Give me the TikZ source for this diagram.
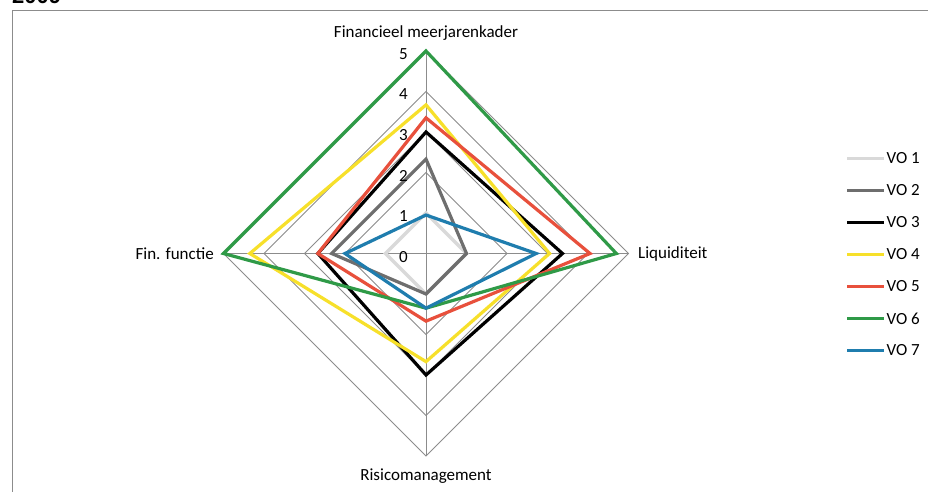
\documentclass[tikz,border=0pt]{standalone}
\usepackage{fontspec}
\setmainfont{Carlito}
\newfontfamily\titlefont{Liberation Sans}
\usepackage{tikz}
\definecolor{gridgray}{HTML}{8C8C8C}
\definecolor{vogray}{HTML}{D9D9D9}
\definecolor{vodark}{HTML}{6E6E6E}
\definecolor{voyellow}{HTML}{F7E02A}
\definecolor{vored}{HTML}{E8503C}
\definecolor{vogreen}{HTML}{2F9A47}
\definecolor{voblue}{HTML}{1F7DAE}
\tikzstyle{grid} = [draw=gridgray,line width=0.9pt]
\tikzstyle{serie} = [line width=3.2pt,line join=miter]
\tikzstyle{lbl} = [font=\fontsize{17}{19}\selectfont,inner sep=2pt,text=black]

\begin{document}
\begin{tikzpicture}[x=1pt,y=-1pt]
        \useasboundingbox (0,0) rectangle (928,492);
        \fill[white] (0,0) rectangle (928,492);
        \node[anchor=base west, inner sep=0pt, font=\titlefont\bfseries\fontsize{22}{24}\selectfont] (year) at (12,3.5) {2009};
        \draw[grid] (12,492) -- (12,10) -- (928,10);

        \begin{scope}[shift={(426,253.5)}, x=40.5pt, y=40.5pt]
        \foreach \r in {1,...,5}
            \draw[grid] (0,\r) -- (\r,0) -- (0,-\r) -- (-\r,0) -- cycle;
        \draw[grid] (0,5) -- (0,-5);
        \draw[grid] (-5,0) -- (5,0);

        \draw[serie, vogray] (0,1) -- (1,0) -- (0,-1) -- (-1,0) -- cycle;
        \draw[serie, vodark] (0,2.33) -- (1,0) -- (0,-1) -- (-2.33,0) -- cycle;
        \draw[serie, black] (0,3) -- (3.37,0) -- (0,-3) -- (-2.67,0) -- cycle;
        \draw[serie, voyellow] (0,3.67) -- (3.05,0) -- (0,-2.67) -- (-4.35,0) -- cycle;
        \draw[serie, vored] (0,3.35) -- (4.05,0) -- (0,-1.67) -- (-2.67,0) -- cycle;
        \draw[serie, vogreen] (0,5) -- (4.7,0) -- (0,-1.35) -- (-5,0) -- cycle;
        \draw[serie, voblue] (0,0.95) -- (2.72,0) -- (0,-1.35) -- (-2,0) -- cycle;
        \end{scope}

        % value axis
        \node[lbl, anchor=east] (t0) at (410,257) {0};
        \node[lbl, anchor=east] (t1) at (410,216) {1};
        \node[lbl, anchor=east] (t2) at (410,175.5) {2};
        \node[lbl, anchor=east] (t3) at (410,135) {3};
        \node[lbl, anchor=east] (t4) at (410,94.5) {4};
        \node[lbl, anchor=east] (t5) at (410,54) {5};

        % categories
        \node[lbl] (fmk) at (426,33) {Financieel meerjarenkader};
        \node[lbl, anchor=west] (liq) at (636,254) {Liquiditeit};
        \node[lbl, anchor=east] (finf) at (216,254) {Fin. functie};
        \node[lbl] (risk) at (426,476) {Risicomanagement};

        % legend
        \draw[serie, vogray] (847,158.5) -- (884,158.5) node[lbl, anchor=west, inner sep=1pt] (vo1) {VO 1};
        \draw[serie, vodark] (847,190.5) -- (884,190.5) node[lbl, anchor=west, inner sep=1pt] (vo2) {VO 2};
        \draw[serie, black] (847,222.5) -- (884,222.5) node[lbl, anchor=west, inner sep=1pt] (vo3) {VO 3};
        \draw[serie, voyellow] (847,254.5) -- (884,254.5) node[lbl, anchor=west, inner sep=1pt] (vo4) {VO 4};
        \draw[serie, vored] (847,286.5) -- (884,286.5) node[lbl, anchor=west, inner sep=1pt] (vo5) {VO 5};
        \draw[serie, vogreen] (847,318.5) -- (884,318.5) node[lbl, anchor=west, inner sep=1pt] (vo6) {VO 6};
        \draw[serie, voblue] (847,350.5) -- (884,350.5) node[lbl, anchor=west, inner sep=1pt] (vo7) {VO 7};

    \end{tikzpicture}
\end{document}
